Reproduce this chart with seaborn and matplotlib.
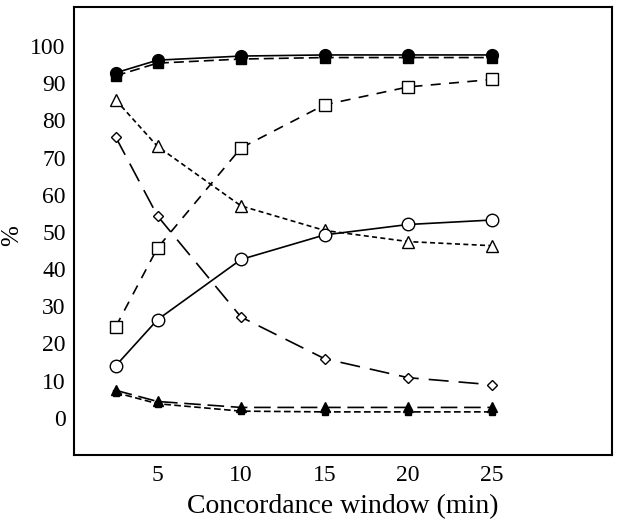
import matplotlib
matplotlib.use("Agg")
import matplotlib.pyplot as plt
import seaborn as sns
import pandas as pd

# fenêtre de concordance (min)
window = [2.5, 5, 10, 15, 20, 25]

# séries
filled_circle = [92.8, 96.2, 97.3, 97.6, 97.6, 97.6]
filled_square = [92.0, 95.4, 96.5, 96.9, 96.9, 96.9]
open_square = [24.5, 45.7, 72.6, 84.2, 89.0, 91.0]
open_triangle = [85.5, 73.0, 57.0, 50.4, 47.4, 46.3]
open_diamond = [75.5, 54.3, 27.1, 15.9, 10.8, 8.9]
open_circle = [14.0, 26.4, 42.6, 49.2, 52.0, 53.2]
filled_triangle = [7.4, 4.4, 2.8, 2.8, 2.8, 2.8]
filled_square_low = [6.8, 3.8, 1.8, 1.6, 1.6, 1.6]

sns.set_theme(style="white")
plt.rcParams["font.family"] = ["Liberation Serif", "DejaVu Serif"]

fig, ax = plt.subplots(figsize=(6.19, 5.25), dpi=100)
fig.subplots_adjust(left=0.1195, right=0.9887, top=0.9867, bottom=0.1333)

series = [
    (filled_circle, "o", "black", (0, ()), 8.5),
    (filled_square, "s", "black", (0, (6, 3)), 7.5),
    (open_square, "s", "white", (0, (6, 5)), 8.5),
    (open_triangle, "^", "white", (0, (3, 2)), 8.5),
    (open_diamond, "D", "white", (0, (12, 6)), 5.5),
    (open_circle, "o", "white", (0, ()), 9),
    (filled_triangle, "^", "black", (0, (10, 4)), 7.5),
    (filled_square_low, "s", "black", (0, (4, 2)), 5),
]

for vals, mk, fc, ls, ms in series:
    df = pd.DataFrame({"x": window, "y": vals})
    sns.lineplot(data=df, x="x", y="y", ax=ax, color="black", linewidth=1.2,
                 marker=mk, markersize=ms, markerfacecolor=fc,
                 markeredgecolor="black", markeredgewidth=1.0)
    ax.lines[-1].set_linestyle(ls)

ax.set_xlim(0, 32.2)
ax.set_ylim(-10, 110.5)
ax.set_xticks([5, 10, 15, 20, 25])
ax.set_yticks(range(0, 101, 10))
ax.tick_params(direction="in", length=5, width=1, colors="black", labelsize=17, pad=7)
ax.tick_params(axis="y", pad=6)
for s in ax.spines.values():
    s.set_color("black")
    s.set_linewidth(1.5)
ax.set_xlabel("Concordance window (min)", fontsize=20, color="black", labelpad=6)
ax.set_ylabel("%", fontsize=18, color="black")
ax.yaxis.set_label_coords(-0.095, 0.49)

plt.savefig("out.png", dpi=100)
